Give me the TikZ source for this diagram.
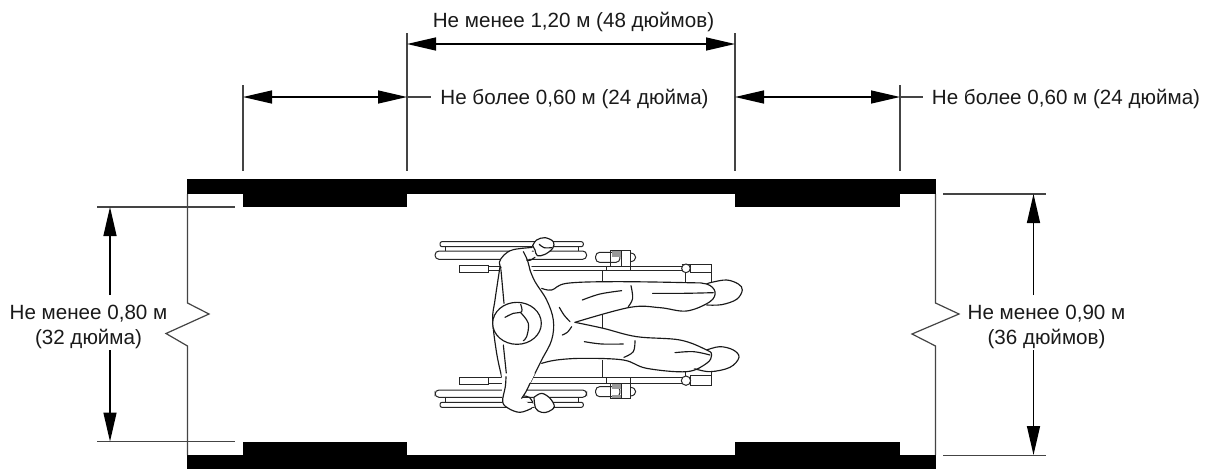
\documentclass[tikz,border=0pt]{standalone}
\usepackage{fontspec}
\setmainfont{Liberation Sans}
\usetikzlibrary{arrows.meta}
\definecolor{txt}{HTML}{1A1A1A}
\definecolor{thin}{HTML}{444444}
\tikzset{
  solidbar/.style={fill=black,draw=none},
  extline/.style={draw=thin,line width=1.2pt},
  dimline/.style={draw=black,line width=1.4pt},
  dimboth/.style={dimline,{Triangle[length=29pt,width=13pt]}-{Triangle[length=29pt,width=13pt]}},
  dimend/.style={dimline,-{Triangle[length=29pt,width=13pt]}},
  lab/.style={font=\fontsize{20.6pt}{25.6pt}\selectfont,text=txt,inner sep=0pt,align=center},
  chair/.style={draw=black!85,line width=1pt},
  body/.style={draw=black!90,line width=1.15pt,line join=round,line cap=round},
  zoomup/.style={shift={(420,225)},x=0.3333pt,y=-0.3333pt},
  zoomdn/.style={shift={(420,340)},x=0.3333pt,y=-0.3333pt},
  zoommid/.style={shift={(480,270)},x=0.3333pt,y=-0.3333pt},
}
\newcommand{\curve}[2][]{\draw[body,#1] plot[smooth,tension=0.6] coordinates {#2};}
\newcommand{\blob}[1]{\fill[white] plot[smooth cycle,tension=0.5] coordinates {#1};}
\begin{document}
\begin{tikzpicture}[x=1pt,y=-1pt]
\useasboundingbox (0,0) rectangle (1210,469);
\fill[white] (0,0) rectangle (1210,469);
% walls and rails
\fill[solidbar] (187,179) rectangle (936,194);
\fill[solidbar] (187,455) rectangle (936,469);
\fill[solidbar] (243,194) rectangle (407,207);
\fill[solidbar] (735,194) rectangle (900,207);
\fill[solidbar] (243,441.5) rectangle (407,455);
\fill[solidbar] (735,441.5) rectangle (900,455);
% wall breaks
\draw[extline,line join=miter] (187.5,194) -- (187.5,303) -- (209,314) -- (166,333.5) -- (187.5,346) -- (187.5,455);
\draw[extline,line join=miter] (935.5,194) -- (935.5,303) -- (959,314) -- (912,334) -- (935.5,346) -- (935.5,455);
% extension lines
\coordinate (tA) at (243,85);  \coordinate (bA) at (243,171);
\coordinate (tB) at (407,33);  \coordinate (bB) at (407,171);
\coordinate (tC) at (735,33);  \coordinate (bC) at (735,171);
\coordinate (tD) at (900,85);  \coordinate (bD) at (900,171);
\draw[extline] (tA) -- (bA);
\draw[extline] (tB) -- (bB);
\draw[extline] (tC) -- (bC);
\draw[extline] (tD) -- (bD);
\coordinate (lTa) at (97,207);    \coordinate (lTb) at (235,207);
\coordinate (lBa) at (97,441.5);  \coordinate (lBb) at (235,441.5);
\coordinate (rTa) at (943,194);   \coordinate (rTb) at (1046,194);
\coordinate (rBa) at (943,455.5); \coordinate (rBb) at (1046,455.5);
\draw[extline] (lTa) -- (lTb);
\draw[extline] (lBa) -- (lBb);
\draw[extline] (rTa) -- (rTb);
\draw[extline] (rBa) -- (rBb);
% labels
\node[lab] (top) at (573.5,22) {Не менее 1,20 м (48 дюймов)};
\node[lab] (midA) at (574.5,99) {Не более 0,60 м (24 дюйма)};
\node[lab] (midB) at (1066,99) {Не более 0,60 м (24 дюйма)};
\node[lab] (left) at (88.5,327) {Не менее 0,80 м\\(32 дюйма)};
\node[lab] (right) at (1046.5,327) {Не менее 0,90 м\\(36 дюймов)};
% dimension arrows
\coordinate (a1) at (407,44); \coordinate (a2) at (735,44);
\coordinate (b1) at (243,97); \coordinate (b2) at (407,97);
\coordinate (c1) at (735,97); \coordinate (c2) at (900,97);
\draw[dimboth] (a1) -- (a2);
\draw[dimboth] (b1) -- (b2);
\draw[dimboth] (c1) -- (c2);
\coordinate (b2e) at (431,97); \coordinate (c2e) at (923,97);
\draw[extline] (b2) -- (b2e);
\draw[extline] (c2) -- (c2e);
\coordinate (d1) at (110,207);  \coordinate (d1e) at (110,295);
\coordinate (d2) at (110,441.5);\coordinate (d2e) at (110,350);
\coordinate (e1) at (1033.5,194);\coordinate (e1e) at (1033.5,295);
\coordinate (e2) at (1033.5,455);\coordinate (e2e) at (1033.5,350);
\draw[dimend] (d1e) -- (d1);
\draw[dimend] (d2e) -- (d2);
\draw[dimend] (e1e) -- (e1);
\draw[dimend] (e2e) -- (e2);
% wheelchair frame, upper half
\begin{scope}[zoomup]
  \draw[chair,rounded corners=2pt] (60,50) rectangle (490,65);
  \draw[chair,rounded corners=4pt] (45,78) rectangle (500,103);
  \draw[chair] (75,65) -- (75,78) (475,65) -- (475,78);
  \draw[chair] (118,120) rectangle (205,143);
  \draw[chair] (205,124) -- (785,124) (205,135) -- (785,135);
  \draw[chair] (812,118) rectangle (875,143);
  \draw[chair] (875,143) -- (875,172) (798,143) -- (798,172);
  \draw[chair] (785,118) -- (812,118);
  \draw[chair,fill=white] (798,130) circle[radius=13];
  \draw[chair] (560,124) -- (560,135) (632,124) -- (632,135);
  \draw[chair] (548,135) -- (548,172);
  \draw[chair] (548,250) -- (548,312);
  \draw[chair,rounded corners=4pt,fill=white] (527,82) rectangle (600,112);
  \fill[black!40] (575,78) rectangle (605,96);
  \draw[chair] (572,75) rectangle (632,124);
  \draw[chair] (605,75) -- (605,124);
  \draw[chair] (632,84) .. controls (652,86) and (652,108) .. (632,110);
\end{scope}
% wheelchair frame, lower half
\begin{scope}[zoomdn]
  \draw[chair,rounded corners=2pt] (60,187) rectangle (490,202);
  \draw[chair,rounded corners=4pt] (45,150) rectangle (500,172);
  \draw[chair] (75,172) -- (75,187) (475,172) -- (475,187);
  \draw[chair] (118,112) rectangle (205,133);
  \draw[chair] (205,113) -- (785,113) (205,130) -- (785,130);
  \draw[chair] (812,105) rectangle (875,136);
  \draw[chair] (875,95) -- (875,105) (798,90) -- (798,108);
  \draw[chair,fill=white] (798,122) circle[radius=14];
  \draw[chair] (560,113) -- (560,130) (632,113) -- (632,130);
  \draw[chair] (548,60) -- (548,113);
  \draw[chair,rounded corners=4pt,fill=white] (527,140) rectangle (600,170);
  \fill[black!40] (575,132) rectangle (605,148);
  \fill[black!40] (575,165) rectangle (605,176);
  \draw[chair] (572,130) rectangle (632,176);
  \draw[chair] (605,130) -- (605,176);
  \draw[chair] (632,142) .. controls (652,144) and (652,166) .. (632,168);
\end{scope}
% occupant, middle
\begin{scope}[zoommid]
  % shoes
  \blob{(680,45)(740,30)(785,55)(770,90)(720,105)(680,105)}
  \curve{(680,42)(695,37)(740,30)(775,42)(787,60)(770,88)(725,104)(680,105)}
  \blob{(680,240)(720,230)(775,260)(750,295)(690,305)(640,295)}
  \curve{(680,240)(720,230)(760,240)(777,262)(750,292)(690,305)(640,295)}
  % fill of legs and torso
  \fill[white] (62,-20) -- (40,130) -- (38,170) -- (50,250) -- (70,345) -- (145,345) -- (185,280) -- (230,270) -- (310,265) -- (430,270) -- (500,295) -- (620,305) -- (680,280) -- (695,255) -- (680,240) -- (600,210) -- (470,200) -- (370,175) -- (285,157) -- (450,112) -- (540,113) -- (620,123) -- (690,95) -- (705,65) -- (680,42) -- (620,38) -- (400,35) -- (260,40) -- (215,60) -- (185,55) -- (150,-20) -- cycle;
  % upper leg
  \curve{(185,55)(215,60)(260,40)(400,35)(620,38)(680,42)(705,65)(690,95)(620,123)(540,113)(450,112)(285,157)}
  % lower leg
  \curve{(285,157)(370,175)(470,200)(600,210)(680,240)(695,255)(680,280)(620,305)(500,295)(430,270)(310,265)(230,270)(185,280)}
  % folds
  \curve{(518,70)(610,70)(700,68)}
  \curve{(307,90)(360,72)(425,62)}
  \curve{(453,47)(458,85)(445,110)}
  \curve{(238,112)(252,135)(270,155)}
  \curve{(247,195)(262,187)(275,170)}
  \curve{(313,215)(365,222)(430,222)}
  \curve{(465,212)(460,245)(432,262)}
  \curve{(585,248)(640,245)(690,255)}
  % torso outlines
  \curve{(60,-10)(45,90)(38,150)(50,250)(65,320)}
  \curve{(62,-10)(72,100)}
  \curve{(70,225)(80,320)}
  \curve{(150,0)(165,35)(200,90)(220,150)(215,210)(185,270)(150,340)}
  % head
  \draw[body,fill=white] (111,160) ellipse[x radius=73,y radius=63];
  \curve{(75,142)(100,130)(125,125)(122,103)}
  \curve{(122,128)(145,160)(140,200)(130,212)}
\end{scope}
% occupant, arms and hands
\begin{scope}[zoomup]
  \fill[white] (245,125) -- (235,115) -- (250,90) -- (280,73) -- (340,68) -- (322,110) -- (330,135) -- (245,135) -- cycle;
  \curve{(243,128)(238,112)(252,90)(280,74)(340,67)}
  \curve{(310,80)(322,105)(330,135)}
  \curve{(345,97)(330,106)(320,105)}
  \blob{(338,62)(365,38)(395,45)(400,68)(375,88)(350,92)}
  \curve{(338,62)(350,45)(375,38)(400,50)(398,70)(375,88)(352,92)(345,75)(338,62)}
  \curve{(358,58)(372,68)(395,68)}
\end{scope}
\begin{scope}[zoomdn]
  \fill[white] (245,100) -- (248,190) -- (265,205) -- (300,217) -- (340,200) -- (305,175) -- (330,130) -- (345,100) -- cycle;
  \curve{(258,110)(256,140)(248,185)(265,205)(300,217)(335,205)}
  \curve{(330,130)(318,155)(305,175)}
  \curve{(312,168)(328,172)(340,190)}
  \blob{(340,175)(365,160)(395,180)(398,205)(365,217)(345,205)}
  \curve{(342,172)(365,160)(390,175)(403,200)(385,215)(365,217)(347,205)(342,172)}
\end{scope}
\end{tikzpicture}
\end{document}
